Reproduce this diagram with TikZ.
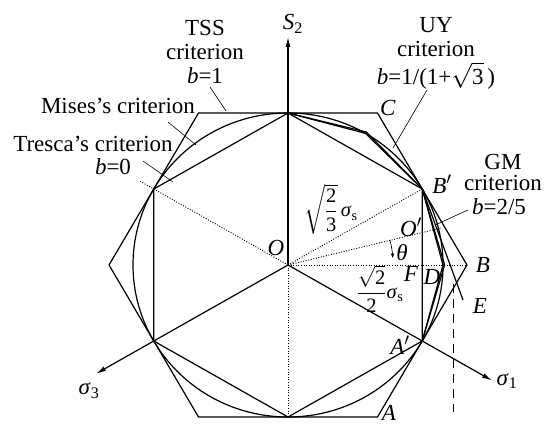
\documentclass[tikz,border=0pt]{standalone}
\usepackage{amsmath}
\usepackage{fontspec}
\setmainfont{Liberation Serif}
\usetikzlibrary{arrows.meta,calc}
\newcommand{\sgm}[1]{\textit{σ}\textsubscript{#1}}
\newcommand{\prm}{$^{\prime}$}
\begin{document}
\begin{tikzpicture}[x=1pt,y=-1pt,font=\fontsize{23}{24}\selectfont]
\tikzset{
  crit/.style={line width=1.2pt, line join=miter},
  aux/.style={line width=0.9pt, dash pattern=on 1pt off 1.6pt},
  dashv/.style={line width=0.9pt, dash pattern=on 9pt off 6pt},
  lead/.style={line width=0.6pt},
  axis/.style={line width=1.2pt, -{Latex[length=10pt,width=5pt]}},
  lbl/.style={inner sep=0pt},
  radlbl/.style={inner sep=0pt, font=\fontsize{20.5}{22}\selectfont},
}
\useasboundingbox (0,0) rectangle (545,425);
\coordinate (O) at (288,265);
\begin{scope}[shift={(O)},x=155pt,y=152pt]
  \coordinate (T1) at (90:1);
  \coordinate (Bp) at (30:1);
  \coordinate (Ap) at (-30:1);
  \coordinate (T4) at (-90:1);
  \coordinate (T5) at (-150:1);
  \coordinate (T6) at (150:1);
  \coordinate (B) at (0:1.1547);
  \coordinate (C) at (60:1.1547);
  \coordinate (S3) at (120:1.1547);
  \coordinate (S4) at (180:1.1547);
  \coordinate (S5) at (240:1.1547);
  \coordinate (A) at (300:1.1547);
  \coordinate (U60) at (60:1);
  \coordinate (U0) at (0:1);
  \coordinate (G60) at (60:1.0104);
  \coordinate (G0) at (0:1.0104);
  \coordinate (T6x) at (150:1.1);
  \draw[crit] (0,0) circle [radius=1];
\end{scope}
% criteria
\draw[crit] (T1)--(Bp)--(Ap)--(T4)--(T5)--(T6)--cycle;
\draw[crit] (B)--(C)--(S3)--(S4)--(S5)--(A)--cycle;
\draw[crit] (T1)--(U60)--(Bp)--(U0)--(Ap);
\draw[crit] (T1)--(G60)--(Bp)--(G0)--(Ap);
\coordinate (E0) at (463,300);
\draw[crit] (Bp)--(E0);
% dotted construction lines
\coordinate (Op) at (441,228);
\draw[aux] (O)--(Bp);
\draw[aux] (O)--(Op);
\draw[aux] (O)--(B);
\draw[aux] (O)--(T6x);
\draw[aux] (O)--(T4);
% dashed vertical
\coordinate (Dt) at (453,284);
\coordinate (Db) at (453,412);
\draw[dashv] (Dt)--(Db);
% axes
\coordinate (S2tip) at (288,37);
\coordinate (s1tip) at ($(O)!1.52!(Ap)$);
\coordinate (s3tip) at ($(O)!1.43!(T5)$);
\draw[axis] (O)--(S2tip);
\draw[axis] (O)--(s1tip);
\draw[axis] (O)--(s3tip);
% theta arc
\begin{scope}[shift={(O)},x=1pt,y=1pt]
  \coordinate (th1) at (13.6:105);
  \draw[line width=0.7pt,-{Latex[length=5pt,width=3.5pt]}] (th1) arc[start angle=13.6,end angle=3.5,radius=105];
\end{scope}
% labels
\node[lbl,align=center] (tss) at (205,52) {TSS\\criterion\\\textit{b}=1};
\node[lbl] (mises) at (118,106) {Mises’s criterion};
\node[lbl] (tresca) at (93,144) {Tresca’s criterion};
\node[lbl] (b0) at (113,167) {\textit{b}=0};
\node[lbl,align=center] (uy) at (436,53) {UY\\criterion\\[4pt]\textit{b}=1/(1+$\sqrt{\text{3}}$\,)};
\node[lbl,align=center,font=\fontsize{23}{21}\selectfont] (gm) at (503,172) {GM\\criterion};
\node[lbl] (gmb) at (499,207) {\textit{b}=2/5};
\node[lbl] (Cl) at (388,108) {\textit{C}};
\node[lbl] (Bpl) at (442,184) {\textit{B}\prm};
\node[lbl] (Bl) at (483,265) {\textit{B}};
\node[lbl] (El) at (480,306) {\textit{E}};
\node[lbl] (Dl) at (432,277) {\textit{D}};
\node[lbl] (Fl) at (411,274) {\textit{F}};
\node[lbl] (Apl) at (400,345) {\textit{A}\prm};
\node[lbl] (Al) at (389,413) {\textit{A}};
\node[lbl] (Opl) at (411,227) {\textit{O}\prm};
\node[lbl] (Ol) at (276,248) {\textit{O}};
\node[lbl] (thl) at (402,253) {\textit{θ}};
\node[radlbl] (r1) at (331,209) {$\sqrt{\dfrac{\text{2}}{\text{3}}}$\,\sgm{s}};
\node[radlbl] (r2) at (380,289) {$\dfrac{\sqrt{\text{2}}}{\text{2}}$\sgm{s}};
\node[lbl] (S2l) at (293,24) {\textit{S}\textsubscript{2}};
\node[lbl] (s1l) at (507,381) {\sgm{1}};
\node[lbl] (s3l) at (89,391) {\sgm{3}};
% leaders
\coordinate (tssA) at (210,87);  \coordinate (tssB) at (226,111);
\coordinate (misA) at (168,122); \coordinate (misB) at (196,145);
\coordinate (treA) at (143,161); \coordinate (treB) at (173,182);
\coordinate (uyA) at (427,90);   \coordinate (uyB) at (393,148);
\coordinate (gmA) at (468,210);  \coordinate (gmB) at (435,225);
\draw[lead] (tssA)--(tssB);
\draw[lead] (misA)--(misB);
\draw[lead] (treA)--(treB);
\draw[lead] (uyA)--(uyB);
\draw[lead] (gmA)--(gmB);
\end{tikzpicture}
\end{document}
